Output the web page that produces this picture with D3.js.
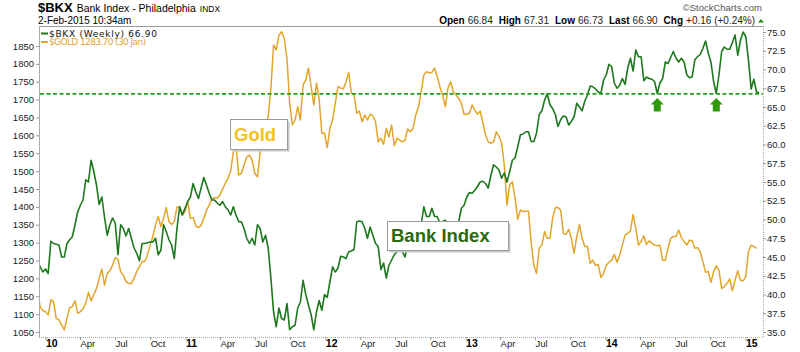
<!DOCTYPE html>
<html><head><meta charset="utf-8">
<script src="https://cdn.jsdelivr.net/npm/d3@7"></script>
<style>body{margin:0;background:#fff} svg{display:block}</style>
</head><body>
<svg id="c" width="800" height="352"></svg>
<script>
// ---- data (weekly closes, first week ending 2009-12-11) ----
const firstWeek = "2009-12-11";
const bkxValues = [
 44.4,43.7,43.0,43.4,42.8,47.1,46.8,46.7,46.6,45.0,
 45.0,46.8,47.3,47.7,49.3,51.0,51.9,52.6,55.3,55.0,
 57.9,56.4,54.6,52.0,53.0,50.3,47.9,49.3,50.2,49.5,
 45.3,49.3,48.8,47.8,48.8,47.5,46.2,45.5,44.5,46.8,
 46.8,46.9,47.0,47.0,47.5,45.3,45.9,49.3,48.4,47.3,
 46.6,44.8,48.8,51.7,50.6,51.5,52.4,53.0,54.8,53.7,
 52.8,54.2,55.6,54.6,53.5,52.6,52.6,52.2,51.9,52.4,
 51.7,51.3,50.6,51.7,50.6,49.7,49.7,48.8,47.5,46.8,
 47.5,46.6,49.3,48.8,47.0,47.9,46.2,42.2,37.7,35.7,
 38.2,36.8,36.6,38.8,35.3,35.7,35.9,38.2,39.0,41.9,
 40.0,38.6,37.3,35.3,37.7,39.2,37.9,40.0,39.6,41.7,
 43.7,43.0,43.5,45.1,45.0,44.8,45.7,45.8,46.0,49.7,
 49.8,49.7,48.8,47.5,49.0,47.9,46.8,46.4,43.3,44.2,
 42.2,43.9,44.6,45.3,45.7,46.2,45.7,45.0,47.0,47.5,
 47.7,47.8,48.8,49.3,51.7,50.4,50.4,51.5,50.4,50.4,
 49.5,49.7,49.9,49.3,48.8,49.5,49.7,49.7,51.5,51.9,
 53.0,53.6,53.5,53.9,54.4,55.0,55.1,54.8,54.2,55.9,
 57.3,57.0,56.6,55.5,56.2,55.0,56.4,57.9,58.2,59.7,
 61.3,61.4,61.7,61.7,60.4,60.4,61.5,64.0,64.5,65.9,
 66.8,65.3,64.8,64.0,62.4,63.3,63.8,63.7,62.6,63.1,
 63.7,65.5,65.0,64.5,65.8,66.6,67.8,67.7,67.4,67.0,
 66.8,68.6,69.3,70.7,70.4,68.2,67.5,67.9,68.8,68.0,
 70.2,71.5,69.8,72.6,71.7,71.7,68.5,69.0,68.8,68.7,
 68.4,66.8,68.2,68.8,71.0,70.8,71.6,72.4,71.5,71.0,
 71.5,71.0,69.3,68.9,69.0,71.3,71.7,72.0,72.8,73.8,
 72.2,71.0,68.4,66.8,69.3,72.4,73.0,72.7,72.7,73.6,
 74.6,71.9,73.9,75.0,74.4,71.2,67.4,68.7,67.0,66.9
];
const goldValues = [
 1167,1121,1110,1107,1098,1140,1135,1088,1084,1070,
 1056,1088,1118,1121,1137,1102,1107,1115,1130,1161,
 1137,1154,1172,1200,1226,1181,1214,1221,1237,1258,
 1254,1219,1209,1191,1186,1186,1200,1219,1233,1247,
 1247,1265,1293,1317,1349,1373,1345,1368,1398,1359,
 1351,1359,1400,1400,1377,1387,1416,1368,1370,1347,
 1342,1349,1368,1390,1405,1422,1426,1424,1433,1450,
 1466,1480,1499,1554,1573,1489,1494,1517,1540,1545,
 1531,1494,1484,1554,1592,1629,1652,1731,1853,1839,
 1881,1890,1871,1815,1690,1629,1643,1680,1643,1741,
 1755,1788,1736,1685,1746,1700,1606,1606,1566,1620,
 1643,1690,1736,1733,1730,1750,1776,1718,1713,1662,
 1668,1638,1657,1643,1659,1655,1638,1582,1592,1575,
 1620,1596,1629,1571,1592,1587,1582,1587,1618,1610,
 1620,1657,1680,1722,1769,1778,1775,1776,1788,1764,
 1736,1713,1680,1732,1750,1722,1713,1704,1690,1659,
 1659,1662,1685,1671,1659,1668,1636,1601,1582,1578,
 1582,1610,1598,1578,1517,1405,1461,1470,1424,1365,
 1391,1387,1388,1388,1303,1237,1214,1284,1293,1331,
 1312,1312,1368,1398,1398,1391,1326,1323,1337,1312,
 1270,1317,1351,1312,1289,1289,1242,1251,1236,1239,
 1203,1214,1237,1245,1251,1267,1245,1265,1293,1321,
 1326,1333,1379,1340,1293,1303,1319,1295,1305,1298,
 1293,1291,1293,1251,1251,1284,1312,1317,1317,1335,
 1314,1303,1293,1307,1305,1284,1286,1275,1247,1217,
 1219,1189,1219,1235,1223,1172,1177,1186,1198,1165,
 1195,1221,1195,1193,1205,1275,1293,1289,1283.7
];
const goldTicks = [1050,1100,1150,1200,1250,1300,1350,1400,1450,1500,1550,1600,1650,1700,1750,1800,1850];
const bkxTicks = [35,37.5,40,42.5,45,47.5,50,52.5,55,57.5,60,62.5,65,67.5,70,72.5,75];
const monthNames = ["Jan","Feb","Mar","Apr","May","Jun","Jul","Aug","Sep","Oct","Nov","Dec"];
const supportLevel = 66.75;
const supportTests = ["2014-05-16","2014-10-17"];
const quote = [["Open","66.84"],["High","67.31"],["Low","66.73"],["Last","66.90"],["Chg","+0.16 (+0.24%)"]];

// ---- layout ----
const L = 39, R = 763, T = 26, B = 337;
const GREEN = "#1d781d", GOLD = "#e2a52a";
const svg = d3.select("#c");
const font = "'Liberation Sans', Arial, sans-serif";

const parse = d3.utcParse("%Y-%m-%d");
const t0 = parse(firstWeek);
const toSeries = vals => vals.map((v,i) => ({date: d3.utcDay.offset(t0, 7*i), value: v}));
const bkx = toSeries(bkxValues), gold = toSeries(goldValues);

const x = d3.scaleUtc().domain([Date.UTC(2010,0,1), Date.UTC(2015,0,2)]).range([45.5, 745.8]);
const yL = d3.scaleLinear().domain([1050,1850]).range([332,46]);
const yR = d3.scaleLinear().domain([35,75]).range([332,32]);

// frame
svg.append("line").attr("x1",L).attr("x2",R).attr("y1",T+0.5).attr("y2",T+0.5).attr("stroke","#999");
svg.append("line").attr("x1",L+0.5).attr("x2",L+0.5).attr("y1",T).attr("y2",B).attr("stroke","#aaa");
svg.append("line").attr("x1",R+0.5).attr("x2",R+0.5).attr("y1",T).attr("y2",B).attr("stroke","#aaa").attr("stroke-dasharray","1,1");
svg.append("line").attr("x1",L).attr("x2",R).attr("y1",B+0.5).attr("y2",B+0.5).attr("stroke","#aaa").attr("stroke-dasharray","1,1");

svg.append("clipPath").attr("id","clip").append("rect").attr("x",L+1).attr("y",T+1).attr("width",R-L-1).attr("height",B-T-1);

// axes
const axL = svg.append("g").attr("transform",`translate(${L},0)`)
  .call(d3.axisLeft(yL).tickValues(goldTicks).tickSize(3).tickPadding(2).tickFormat(d3.format("d")));
const axR = svg.append("g").attr("transform",`translate(${R},0)`)
  .call(d3.axisRight(yR).tickValues(bkxTicks).tickSize(3).tickPadding(1).tickFormat(d3.format(".1f")));
const monthTicks = d3.utcMonth.every(3).range(new Date(Date.UTC(2010,0,1)), new Date(Date.UTC(2015,0,3)));
const axB = svg.append("g").attr("transform",`translate(0,${B})`)
  .call(d3.axisBottom(x).tickValues(monthTicks).tickSize(3)
    .tickFormat(d => d.getUTCMonth()===0 ? String(d.getUTCFullYear()%100).padStart(2,"0") : monthNames[d.getUTCMonth()]));
[axL,axR,axB].forEach(a => {
  a.select(".domain").remove();
  a.selectAll("line").attr("stroke","#999");
  a.selectAll("text").attr("font-family",font).attr("font-size",9.5).attr("fill","#222");
});
axB.selectAll("text").attr("text-anchor","start").attr("x",0).attr("y",10).attr("dy",0)
  .attr("font-weight", d => d.getUTCMonth()===0 ? "bold" : "normal")
  .attr("font-size", d => d.getUTCMonth()===0 ? 10.5 : 9.5)
  .attr("fill", d => d.getUTCMonth()===0 ? "#000" : "#222");

// series
const plot = svg.append("g").attr("clip-path","url(#clip)");
plot.append("path").datum(gold).attr("fill","none").attr("stroke",GOLD).attr("stroke-width",1.5)
  .attr("stroke-linejoin","round")
  .attr("d", d3.line().x(d=>x(d.date)).y(d=>yL(d.value)));
plot.append("path").datum(bkx).attr("fill","none").attr("stroke",GREEN).attr("stroke-width",1.6)
  .attr("stroke-linejoin","round")
  .attr("d", d3.line().x(d=>x(d.date)).y(d=>yR(d.value)));

// support line
svg.append("line").attr("x1",L+1).attr("x2",R).attr("y1",yR(supportLevel)).attr("y2",yR(supportLevel))
  .attr("stroke","#22a01a").attr("stroke-width",1.8).attr("stroke-dasharray","4,2.5");

// arrows
supportTests.forEach(s => {
  const cx = x(parse(s)), top = yR(supportLevel) + 4;
  svg.append("path").attr("fill","#2f9a0c")
    .attr("d", `M${cx},${top} L${cx+6.5},${top+6.5} L${cx+3.5},${top+6.5} L${cx+3.5},${top+13.5} L${cx-3.5},${top+13.5} L${cx-3.5},${top+6.5} L${cx-6.5},${top+6.5} Z`);
});

// annotation boxes
function box(x0,y0,w,h,label,color){
  svg.append("rect").attr("x",x0+2.5).attr("y",y0+2.5).attr("width",w).attr("height",h).attr("fill","#c8c8c8");
  svg.append("rect").attr("x",x0+0.5).attr("y",y0+0.5).attr("width",w).attr("height",h).attr("fill","#fff").attr("stroke","#9a9a9a");
  svg.append("text").attr("x",x0+4).attr("y",y0+h-8).attr("font-family",font).attr("font-weight","bold")
    .attr("font-size",18.5).attr("fill",color).text(label);
}
box(230,119,57,30,"Gold","#f5c21c");
box(387,221,121,29,"Bank Index","#2a6a0c");

// legend
svg.append("rect").attr("x",41).attr("y",32.5).attr("width",7).attr("height",2).attr("fill",GREEN);
svg.append("text").attr("x",49).attr("y",36.5).attr("font-family","'DejaVu Sans',Verdana,sans-serif").attr("font-size",9)
  .attr("fill","#111").attr("textLength",108).text("$BKX (Weekly) 66.90");
svg.append("rect").attr("x",41).attr("y",41).attr("width",7).attr("height",2).attr("fill",GOLD);
svg.append("text").attr("x",49).attr("y",45).attr("font-family","'DejaVu Sans',Verdana,sans-serif").attr("font-size",9)
  .attr("fill",GOLD).attr("textLength",97).text("$GOLD 1283.70 (30 Jan)");

// header
const h1 = svg.append("text").attr("x",38).attr("y",12).attr("font-family",font).attr("fill","#000");
h1.append("tspan").attr("font-weight","bold").attr("font-size",13).text("$BKX");
h1.append("tspan").attr("font-size",10.5).attr("dx",4).text("Bank Index - Philadelphia");
h1.append("tspan").attr("font-size",8.5).attr("dx",4).text("INDX");
svg.append("text").attr("x",38).attr("y",24).attr("font-family",font).attr("font-size",10).attr("fill","#000").text("2-Feb-2015 10:34am");
svg.append("text").attr("x",762).attr("y",11).attr("text-anchor","end").attr("font-family",font).attr("font-size",9.5)
  .attr("fill","#555").text("\u00A9StockCharts.com");
const q = svg.append("text").attr("x",755).attr("y",24).attr("text-anchor","end").attr("font-family",font).attr("font-size",10).attr("fill","#000");
quote.forEach((p,i) => {
  q.append("tspan").attr("font-weight","bold").attr("dx", i ? 6 : 0).text(p[0]);
  q.append("tspan").attr("dx",3).attr("fill","#222").text(p[1]);
});
svg.append("path").attr("fill","#2a8a1a").attr("d","M758,22.5 L764,22.5 L761,19 Z");
</script>
</body></html>
